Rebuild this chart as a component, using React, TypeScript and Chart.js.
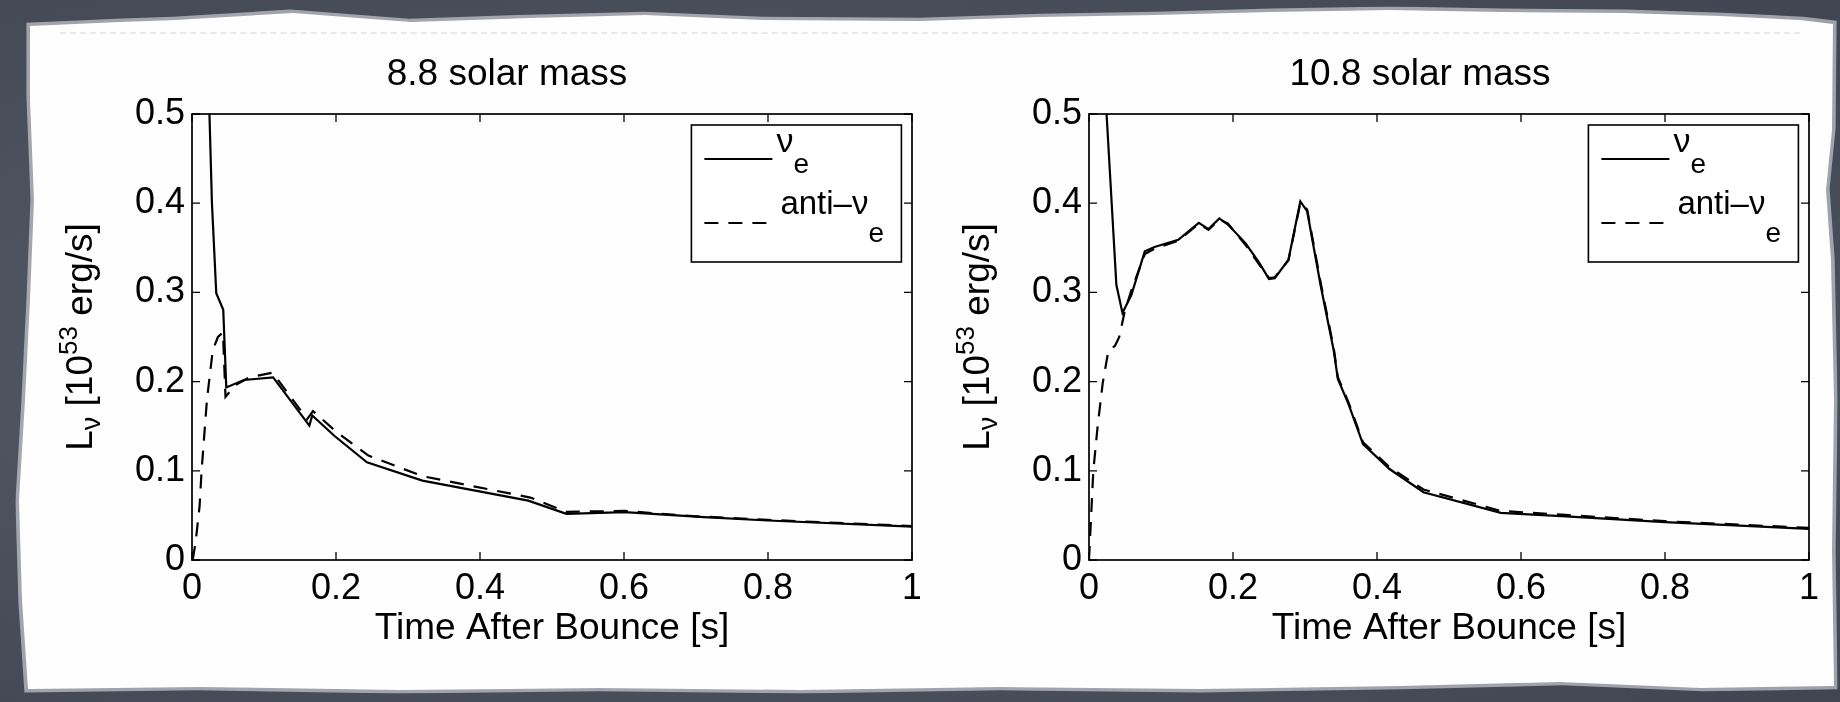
import React, { useEffect, useRef } from 'react';
import { Chart, registerables } from 'chart.js';

Chart.register(...registerables);

const FONT = '"Liberation Sans", Arial, Helvetica, sans-serif';

// ---- Data: 8.8 solar mass ----
const t88Nue = [0.018, 0.0277, 0.0337, 0.0434, 0.0476, 0.072, 0.1127, 0.163, 0.167, 0.198, 0.243, 0.32, 0.467, 0.52, 0.601, 0.711, 0.8, 1.0];
const l88Nue = [0.68, 0.4, 0.299, 0.2805, 0.1935, 0.2018, 0.2047, 0.1506, 0.162, 0.139, 0.1095, 0.089, 0.0666, 0.0517, 0.0536, 0.048, 0.0443, 0.0375];
const t88Anti = [0.001, 0.005, 0.0105, 0.0133, 0.0208, 0.0288, 0.036, 0.043, 0.0465, 0.06, 0.08, 0.112, 0.16, 0.168, 0.2, 0.245, 0.32, 0.47, 0.52, 0.6, 0.7, 0.8, 1.0];
const l88Anti = [0.0, 0.02, 0.06, 0.1, 0.18, 0.235, 0.25, 0.255, 0.183, 0.196, 0.205, 0.21, 0.158, 0.167, 0.144, 0.117, 0.094, 0.07, 0.054, 0.055, 0.049, 0.045, 0.038];

// ---- Data: 10.8 solar mass ----
const t108Nue = [0.021, 0.0244, 0.038, 0.0465, 0.0588, 0.0775, 0.091, 0.124, 0.1525, 0.166, 0.181, 0.193, 0.2176, 0.2365, 0.25, 0.258, 0.277, 0.2935, 0.303, 0.322, 0.34, 0.3456, 0.3603, 0.3806, 0.4174, 0.4646, 0.572, 0.662, 0.8, 1.0];
const l108Nue = [0.6, 0.5, 0.3085, 0.277, 0.297, 0.346, 0.351, 0.359, 0.378, 0.371, 0.383, 0.376, 0.355, 0.333, 0.315, 0.316, 0.3365, 0.402, 0.391, 0.3066, 0.2346, 0.203, 0.175, 0.13, 0.102, 0.076, 0.0528, 0.049, 0.0424, 0.035];
const t108Anti = [0.0, 0.003, 0.006, 0.012, 0.019, 0.027, 0.036, 0.042, 0.05, 0.06, 0.0775, 0.091, 0.124, 0.1525, 0.166, 0.181, 0.193, 0.2176, 0.2365, 0.25, 0.258, 0.277, 0.2935, 0.303, 0.322, 0.34, 0.3456, 0.3603, 0.3806, 0.4174, 0.4646, 0.572, 0.662, 0.8, 1.0];
const l108Anti = [0.0, 0.05, 0.1, 0.15, 0.198, 0.235, 0.24, 0.25, 0.28, 0.305, 0.343, 0.349, 0.358, 0.377, 0.37, 0.382, 0.377, 0.353, 0.331, 0.316, 0.317, 0.336, 0.4, 0.393, 0.31, 0.237, 0.205, 0.177, 0.132, 0.104, 0.079, 0.055, 0.0505, 0.0435, 0.036];

// ---- Axis tick labels ----
const xTickLabels = ['0', '0.2', '0.4', '0.6', '0.8', '1'];
const yTickLabels = ['0', '0.1', '0.2', '0.3', '0.4', '0.5'];

const titles = ['8.8 solar mass', '10.8 solar mass'];
const xAxisTitle = 'Time After Bounce [s]';

type PanelSpec = {
  title: string;
  titleX: number;
  padRight: number;
  yWidth: number;
  tN: number[];
  lN: number[];
  tA: number[];
  lA: number[];
};

const panels: PanelSpec[] = [
  { title: titles[0], titleX: 507, padRight: 8, yWidth: 192, tN: t88Nue, lN: l88Nue, tA: t88Anti, lA: l88Anti },
  { title: titles[1], titleX: 500, padRight: 31, yWidth: 169, tN: t108Nue, lN: l108Nue, tA: t108Anti, lA: l108Anti },
];

const pts = (t: number[], v: number[]) => t.map((x, i) => ({ x, y: v[i] }));

function drawRich(ctx: CanvasRenderingContext2D, segs: { t: string; s: number; dy: number }[], x0: number, y0: number, center: boolean) {
  let total = 0;
  for (const s of segs) {
    ctx.font = `${s.s}px ${FONT}`;
    total += ctx.measureText(s.t).width;
  }
  let x = center ? x0 - total / 2 : x0;
  for (const s of segs) {
    ctx.font = `${s.s}px ${FONT}`;
    ctx.fillText(s.t, x, y0 + s.dy);
    x += ctx.measureText(s.t).width;
  }
  return x;
}

function makeDecor(spec: PanelSpec) {
  return {
    id: 'decor',
    afterDraw(chart: any) {
      const ctx: CanvasRenderingContext2D = chart.ctx;
      const a = chart.chartArea;
      const xs = chart.scales.x;
      const ys = chart.scales.y;
      ctx.save();
      ctx.strokeStyle = '#000';
      ctx.fillStyle = '#000';
      ctx.setLineDash([]);
      // box
      ctx.lineWidth = 1.7;
      ctx.strokeRect(a.left, a.top, a.right - a.left, a.bottom - a.top);
      // inward ticks on all four sides
      ctx.lineWidth = 1.3;
      ctx.beginPath();
      for (const tk of xs.ticks) {
        const px = xs.getPixelForValue(tk.value);
        ctx.moveTo(px, a.bottom);
        ctx.lineTo(px, a.bottom - 8);
        ctx.moveTo(px, a.top);
        ctx.lineTo(px, a.top + 8);
      }
      for (const tk of ys.ticks) {
        const py = ys.getPixelForValue(tk.value);
        ctx.moveTo(a.left, py);
        ctx.lineTo(a.left + 8, py);
        ctx.moveTo(a.right, py);
        ctx.lineTo(a.right - 8, py);
      }
      ctx.stroke();

      // title
      ctx.textAlign = 'left';
      ctx.textBaseline = 'alphabetic';
      ctx.font = `37px ${FONT}`;
      const tw = ctx.measureText(spec.title).width;
      ctx.fillText(spec.title, spec.titleX - tw / 2, 85);

      // x axis title
      ctx.font = `37px ${FONT}`;
      const xw = ctx.measureText(xAxisTitle).width;
      ctx.fillText(xAxisTitle, (a.left + a.right) / 2 - xw / 2, 639);

      // y axis title (rotated, with sub/superscripts)
      ctx.save();
      ctx.translate(a.left - 100, (a.top + a.bottom) / 2);
      ctx.rotate(-Math.PI / 2);
      drawRich(
        ctx,
        [
          { t: 'L', s: 37, dy: 0 },
          { t: 'ν', s: 27, dy: 8 },
          { t: ' [10', s: 37, dy: 0 },
          { t: '53', s: 26, dy: -15 },
          { t: ' erg/s]', s: 37, dy: 0 },
        ],
        0,
        0,
        true
      );
      ctx.restore();

      // legend
      const bx = a.right - 220.6;
      const by = a.top + 11;
      const bw = 210;
      const bh = 137;
      ctx.fillStyle = '#fff';
      ctx.fillRect(bx, by, bw, bh);
      ctx.lineWidth = 1.6;
      ctx.strokeRect(bx, by, bw, bh);
      ctx.lineWidth = 2.2;
      ctx.beginPath();
      ctx.moveTo(bx + 13, by + 34);
      ctx.lineTo(bx + 81, by + 34);
      ctx.stroke();
      ctx.setLineDash([14, 10]);
      ctx.beginPath();
      ctx.moveTo(bx + 13, by + 98);
      ctx.lineTo(bx + 81, by + 98);
      ctx.stroke();
      ctx.setLineDash([]);
      ctx.fillStyle = '#000';
      drawRich(ctx, [{ t: 'ν', s: 34, dy: 0 }, { t: 'e', s: 28, dy: 21 }], bx + 85, by + 27, false);
      drawRich(ctx, [{ t: 'anti–ν', s: 33, dy: 0 }, { t: 'e', s: 28, dy: 28 }], bx + 89, by + 89, false);
      ctx.restore();
    },
  };
}

function Panel({ spec, left }: { spec: PanelSpec; left: number }) {
  const ref = useRef<HTMLCanvasElement>(null);
  useEffect(() => {
    const canvas = ref.current!;
    const zeroPad = (s: any) => {
      s.paddingLeft = 0;
      s.paddingRight = 0;
      s.paddingTop = 0;
      s.paddingBottom = 0;
    };
    const chart = new Chart(canvas, {
      type: 'line',
      data: {
        datasets: [
          {
            label: 'ν_e',
            data: pts(spec.tN, spec.lN),
            borderColor: '#000',
            borderWidth: 2.2,
            pointRadius: 0,
            tension: 0,
            fill: false,
            clip: 0,
          },
          {
            label: 'anti-ν_e',
            data: pts(spec.tA, spec.lA),
            borderColor: '#000',
            borderWidth: 2.2,
            borderDash: [14, 10],
            pointRadius: 0,
            tension: 0,
            fill: false,
            clip: 0,
          },
        ],
      },
      options: {
        animation: false,
        responsive: false,
        devicePixelRatio: 1,
        events: [],
        layout: { padding: { left: 0, top: 114, right: spec.padRight, bottom: 0 } },
        plugins: { legend: { display: false }, title: { display: false }, tooltip: { enabled: false } },
        scales: {
          x: {
            type: 'linear',
            min: 0,
            max: 1,
            grid: { display: false, drawTicks: false },
            border: { display: false },
            ticks: {
              stepSize: 0.2,
              color: '#000',
              padding: 7,
              maxRotation: 0,
              autoSkip: false,
              font: { family: FONT, size: 36 },
              callback: (_v: any, i: number) => xTickLabels[i],
            },
            afterFit: (s: any) => {
              s.height = 702 - 560;
              zeroPad(s);
            },
          },
          y: {
            type: 'linear',
            min: 0,
            max: 0.5,
            grid: { display: false, drawTicks: false },
            border: { display: false },
            ticks: {
              stepSize: 0.1,
              color: '#000',
              padding: 7,
              autoSkip: false,
              font: { family: FONT, size: 36 },
              callback: (_v: any, i: number) => yTickLabels[i],
            },
            afterFit: (s: any) => {
              s.width = spec.yWidth;
              zeroPad(s);
            },
          },
        },
      },
      plugins: [makeDecor(spec)],
    } as any);
    return () => chart.destroy();
  }, []);
  return (
    <canvas
      ref={ref}
      width={920}
      height={702}
      style={{ position: 'absolute', left, top: 0, width: 920, height: 702 }}
    />
  );
}

const paperPoly =
  'polygon(30px 26px, 120px 22px, 176px 20px, 293px 13px, 411px 22px, 530px 18px, 645px 15px, 763px 20px, 920px 21px, 1040px 17px, 1155px 15px, 1270px 12px, 1390px 10px, 1500px 12px, 1624px 13px, 1720px 16px, 1800px 20px, 1833px 24px, 1832px 130px, 1826px 190px, 1831px 260px, 1834px 400px, 1832px 550px, 1834px 686px, 1700px 688px, 1560px 682px, 1400px 686px, 1200px 689px, 1000px 687px, 800px 690px, 600px 688px, 400px 690px, 200px 687px, 28px 689px, 22px 600px, 19px 500px, 25px 400px, 30px 300px, 34px 200px, 30px 100px)';

export default function App() {
  return (
    <div
      style={{
        position: 'fixed',
        left: 0,
        top: 0,
        width: 1840,
        height: 702,
        overflow: 'hidden',
        background: 'radial-gradient(ellipse at 40% 50%, #5a5f6c 0%, #4b505d 60%, #414552 100%)',
      }}
    >
      <div
        style={{
          position: 'absolute',
          left: 0,
          top: 0,
          width: 1840,
          height: 702,
          background: 'rgba(235,236,240,0.55)',
          clipPath: paperPoly,
          transform: 'scale(1.004, 1.01)',
          filter: 'blur(3px)',
        }}
      />
      <div
        style={{
          position: 'absolute',
          left: 0,
          top: 0,
          width: 1840,
          height: 702,
          background: '#fefefe',
          clipPath: paperPoly,
        }}
      />
      <div
        style={{
          position: 'absolute',
          left: 60,
          top: 32,
          width: 1740,
          borderTop: '2px dashed #e8e9eb',
        }}
      />
      <Panel spec={panels[0]} left={0} />
      <Panel spec={panels[1]} left={920} />
    </div>
  );
}
